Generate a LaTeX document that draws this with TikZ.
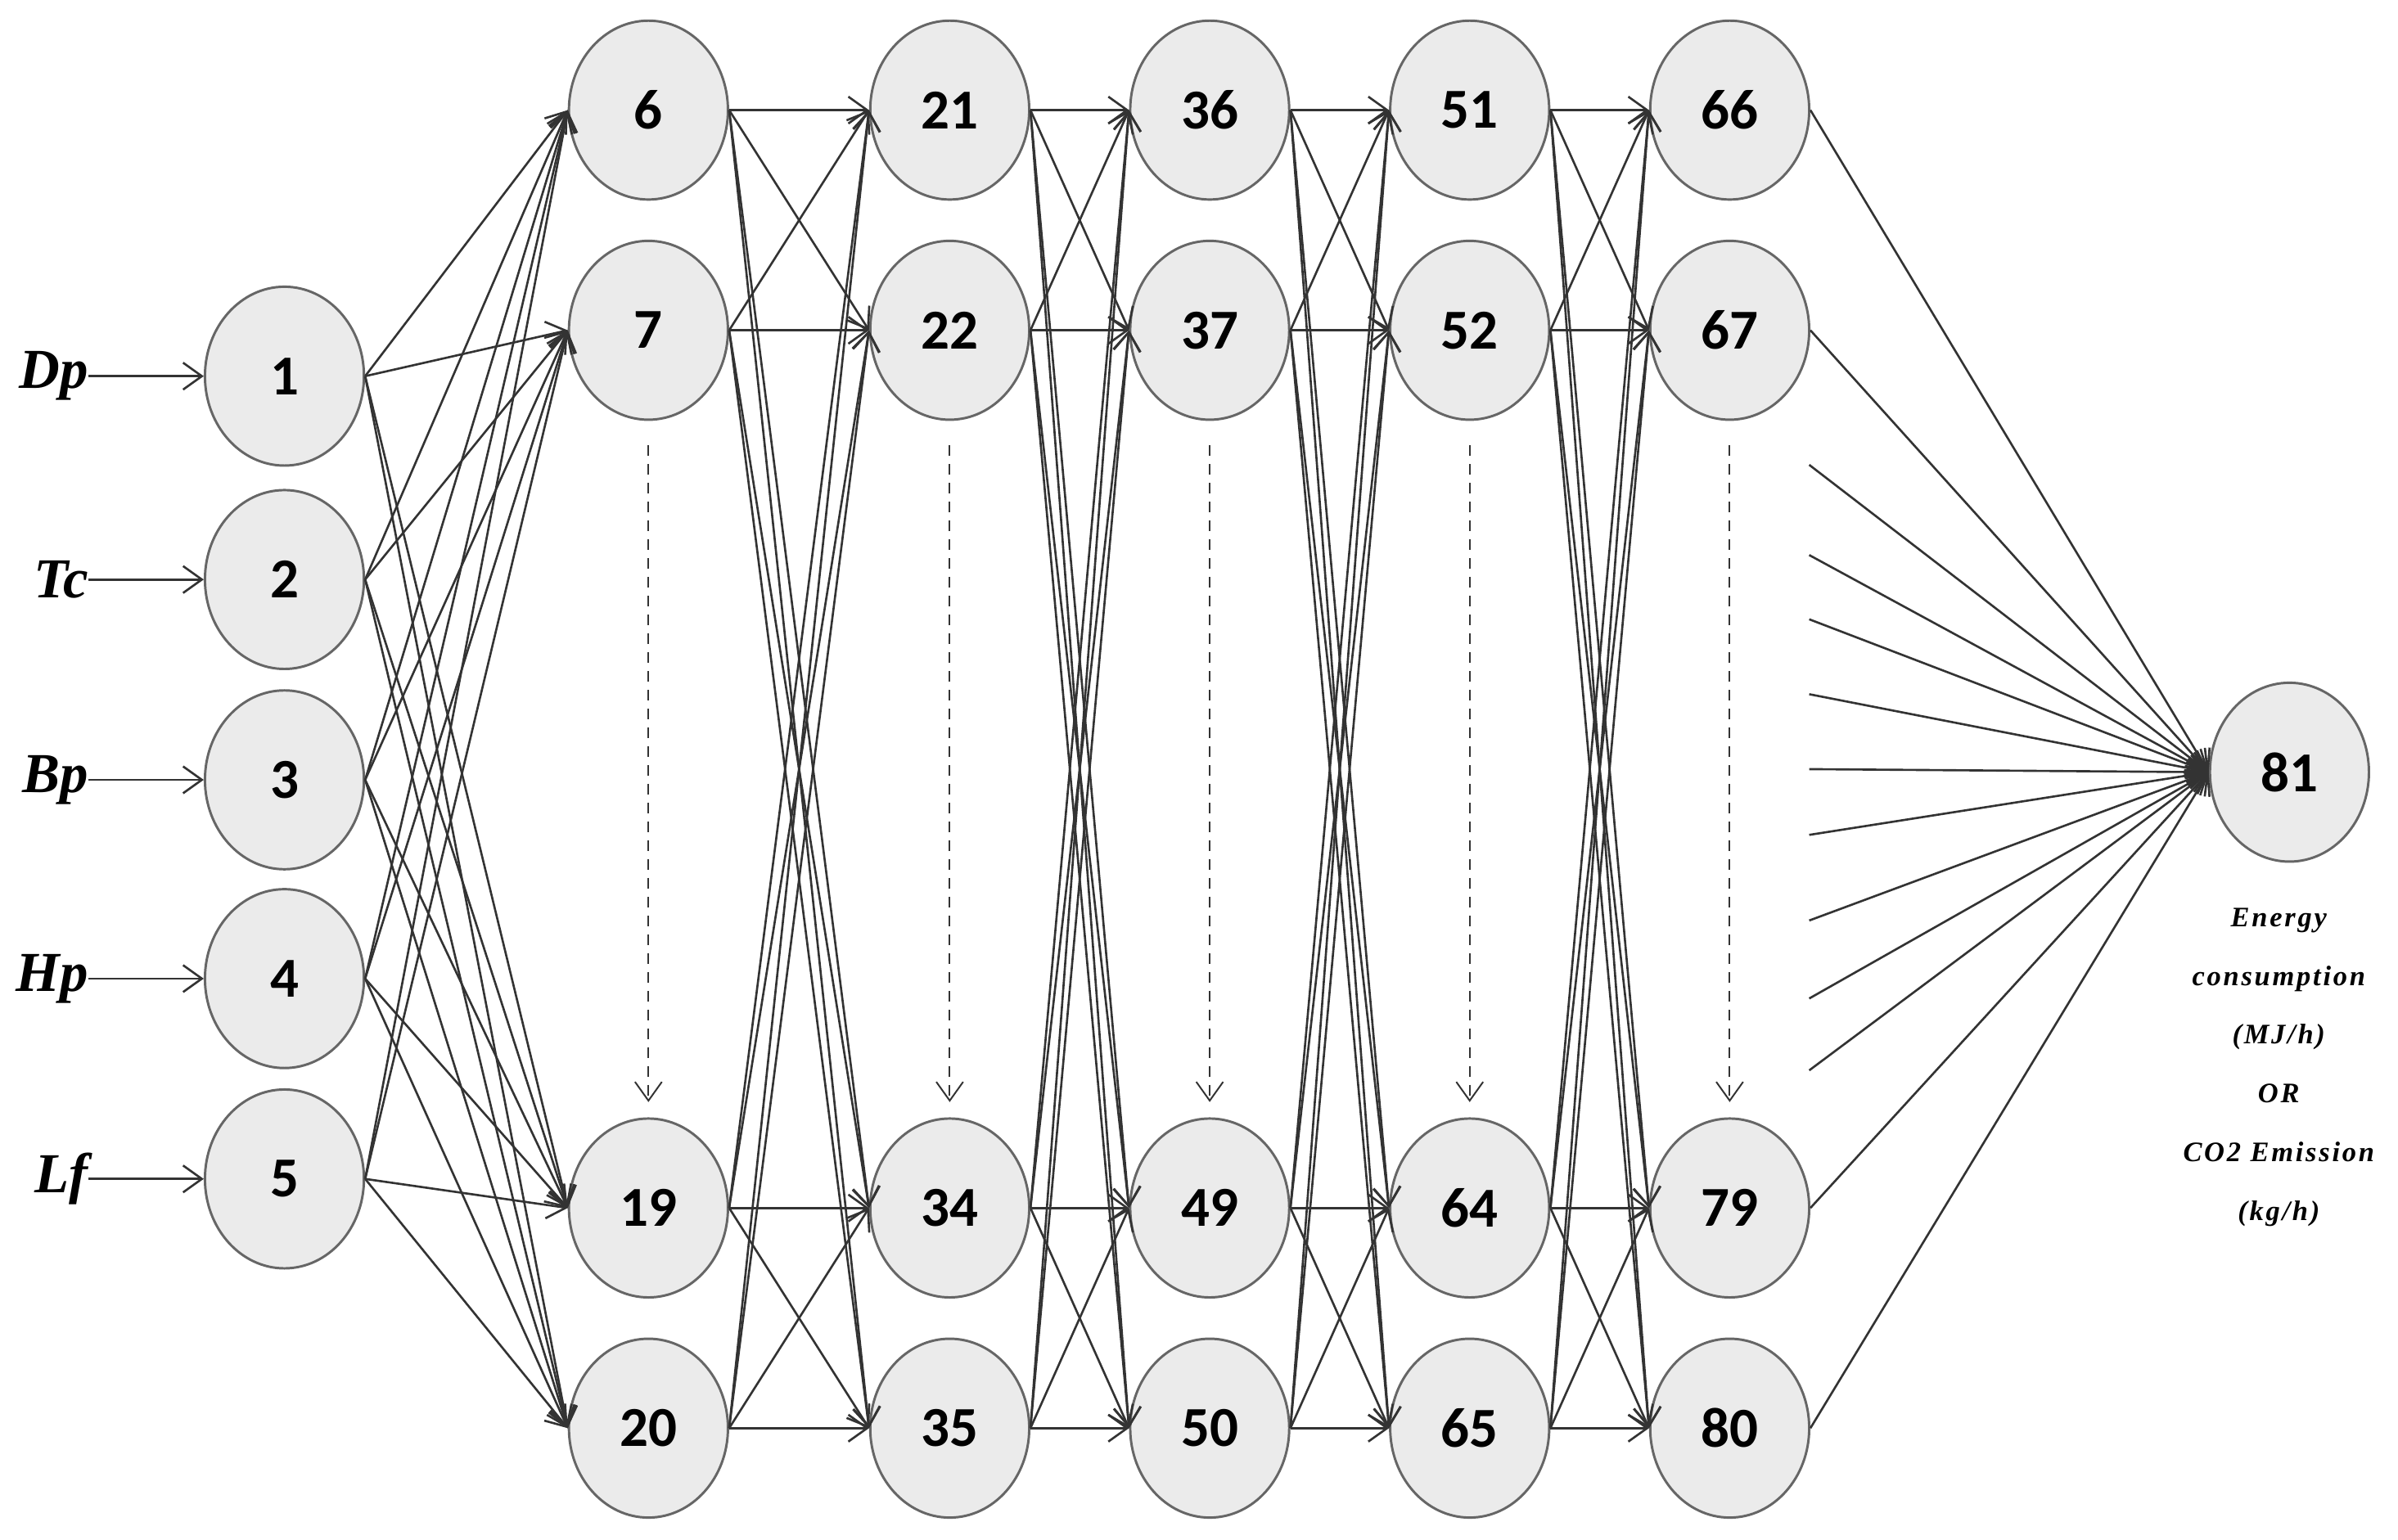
\documentclass[tikz,border=0pt]{standalone}
\usepackage{fontspec}
\setmainfont{Liberation Serif}
\newfontfamily\numfont{Carlito}
\newfontfamily\outfont[LetterSpace=8]{Liberation Serif}
\usetikzlibrary{arrows.meta,shapes.geometric}
\begin{document}
\begin{tikzpicture}[x=0.02cm,y=-0.02cm,
  neuron/.style={ellipse, draw=black!60, line width=0.9pt, fill=black!8,
    minimum width=2.08cm, minimum height=2.34cm, inner sep=0pt,
    font=\numfont\bfseries\fontsize{21}{21}\selectfont},
  inlab/.style={anchor=east, inner sep=0pt, font=\bfseries\itshape\fontsize{21}{21}\selectfont},
  conn/.style={draw=black!80, line width=0.8pt, -{Straight Barb[length=7pt,width=10pt,line width=0.8pt]}},
  dots/.style={draw=black!80, line width=0.6pt, dash pattern=on 4pt off 3pt,
    -{Straight Barb[length=7pt,width=10pt,line width=0.6pt,sep=0pt]}},
  outtext/.style={align=center, inner sep=0pt,
    font=\outfont\bfseries\itshape\fontsize{10.5}{21.9}\selectfont}]
\useasboundingbox (0,0) rectangle (1568,1007.1);

% input nodes and labels
\foreach \i/\y/\t in {1/246/Dp, 2/379/Tc, 3/510/Bp, 4/640/Hp, 5/771/Lf}{
  \node[neuron] (n\i) at (186,\y) {\i};
  \node[inlab] (l\i) at (58,\y) {\t};
}

% hidden nodes: columns c = 2..6, rows r = 1..4
\foreach \c/\x/\a/\b/\d/\e in {2/424/6/7/19/20, 3/621/21/22/34/35, 4/791/36/37/49/50, 5/961/51/52/64/65, 6/1131/66/67/79/80}{
  \node[neuron] (h\c-1) at (\x,72) {\a};
  \node[neuron] (h\c-2) at (\x,216) {\b};
  \node[neuron] (h\c-3) at (\x,790) {\d};
  \node[neuron] (h\c-4) at (\x,934) {\e};
}

% output node
\node[neuron] (out) at (1497,505) {81};
\node[outtext] (otext) at (1490,698) {Energy\\consumption\\(MJ/h)\\OR\\CO2 Emission\\(kg/h)};

% input arrows
\foreach \i in {1,...,5}{
  \draw[conn] (l\i.east) -- (n\i.west);
}

% input -> first hidden layer
\foreach \i in {1,...,5}{
  \foreach \r in {1,...,4}{
    \draw[conn] (n\i.east) -- (h2-\r.west);
  }
}

% hidden -> hidden
\foreach \c/\n in {2/3, 3/4, 4/5, 5/6}{
  \foreach \r in {1,...,4}{
    \foreach \s in {1,...,4}{
      \draw[conn] (h\c-\r.east) -- (h\n-\s.west);
    }
  }
}

% dashed "and so on" arrows
\foreach \c in {2,...,6}{
  \path (h\c-2.south) ++(0,16) coordinate (ds\c);
  \path (h\c-3.north) ++(0,-10) coordinate (de\c);
  \draw[dots] (ds\c) -- (de\c);
}

% last hidden layer -> output
\foreach \r in {1,...,4}{
  \draw[conn] (h6-\r.east) -- (out.west);
}
\foreach \k/\y in {1/304, 2/363, 3/405, 4/454, 5/503, 6/546, 7/602, 8/653, 9/700}{
  \coordinate (f\k) at (1183,\y);
  \draw[conn] (f\k) -- (out.west);
}
\end{tikzpicture}
\end{document}
